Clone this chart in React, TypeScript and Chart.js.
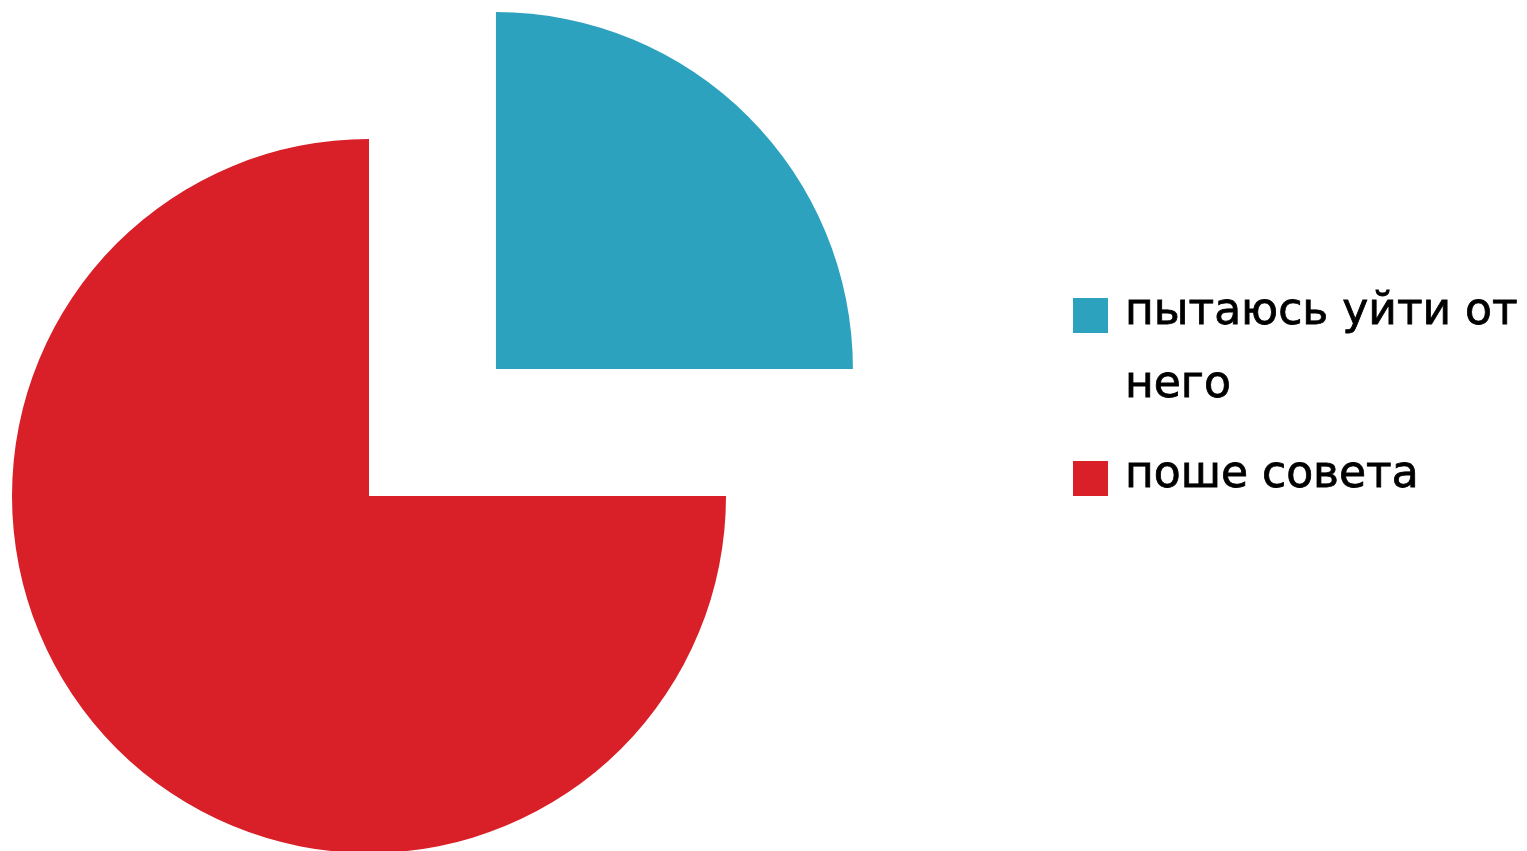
import React, { useEffect, useRef } from "react";
import { Chart, registerables } from "chart.js";

Chart.register(...registerables);

const categories = ["пытаюсь уйти от него", "поше совета"];
const values = [25, 75];
const colors = ["#2DA2BF", "#D91F28"];
const offsets = [718, 0];

const legendPlugin = {
  id: "sideLegend",
  afterDraw(chart: any) {
    const ctx = chart.ctx as CanvasRenderingContext2D;
    const boxX = 1073;
    const boxSize = 35;
    const textX = 1125;
    const lineH = 73;
    const groupGap = 90;
    const maxW = 405;
    ctx.save();
    ctx.font = "44px 'DejaVu Sans'";
    (ctx as any).letterSpacing = "0px";
    ctx.textBaseline = "alphabetic";
    ctx.fillStyle = "#000";
    ctx.strokeStyle = "#000";
    ctx.lineWidth = 0.8;
    let baseline = 324;
    const labels = chart.data.labels as string[];
    const bg = chart.data.datasets[0].backgroundColor as string[];
    labels.forEach((label, i) => {
      const words = label.split(" ");
      const lines: string[] = [];
      let cur = "";
      for (const w of words) {
        const t = cur ? cur + " " + w : w;
        if (cur && ctx.measureText(t).width > maxW) {
          lines.push(cur);
          cur = w;
        } else cur = t;
      }
      if (cur) lines.push(cur);
      ctx.fillStyle = bg[i];
      ctx.fillRect(boxX, baseline - 26, boxSize, boxSize);
      ctx.fillStyle = "#000";
      lines.forEach((ln, j) => {
        ctx.fillText(ln, textX, baseline + j * lineH);
        ctx.strokeText(ln, textX, baseline + j * lineH);
      });
      baseline += (lines.length - 1) * lineH + groupGap;
    });
    ctx.restore();
  },
};

export default function App() {
  const ref = useRef<HTMLCanvasElement>(null);
  useEffect(() => {
    const chart = new Chart(ref.current!, {
      type: "pie",
      data: {
        labels: categories,
        datasets: [
          {
            data: values,
            backgroundColor: colors,
            borderWidth: 0,
            offset: offsets,
            radius: 357,
            clip: false,
          } as any,
        ],
      },
      options: {
        animation: false,
        responsive: false,
        cutout: "0%",
        layout: { padding: { left: 0, right: 789, top: 141, bottom: 0 } },
        plugins: { legend: { display: false }, tooltip: { enabled: false } },
      } as any,
      plugins: [legendPlugin],
    });
    return () => chart.destroy();
  }, []);
  return (
    <div style={{ position: "fixed", left: 0, top: 0, width: 1527, height: 851, background: "#fff" }}>
      <canvas ref={ref} width={1527} height={851} style={{ width: 1527, height: 851, display: "block" }} />
    </div>
  );
}
